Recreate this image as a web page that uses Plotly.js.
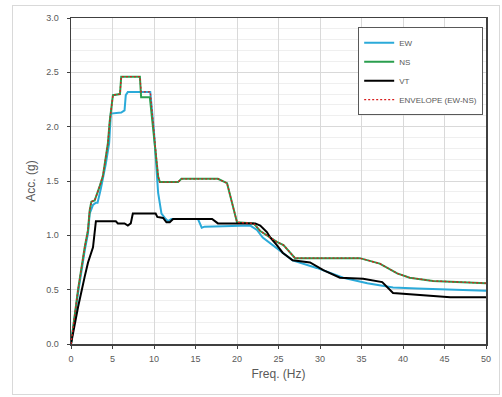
<!DOCTYPE html>
<html>
<head>
<meta charset="utf-8">
<script src="https://cdn.plot.ly/plotly-3.0.1.min.js"></script>
<style>
  html, body { margin: 0; padding: 0; background: #ffffff; }
  #frame { position: absolute; left: 12px; top: 5px; width: 488px; height: 390px; border: 1px solid #d9d9d9; box-sizing: border-box; z-index: 0; }
  #chart { position: absolute; left: 0; top: 0; width: 502px; height: 397px; z-index: 1; }
</style>
</head>
<body>
<div id="frame"></div>
<div id="chart"></div>
<script>
// ---- data ----
const ewFreq = [0, 0.85, 1.65, 2.05, 2.25, 2.65, 3.0, 3.2, 3.6, 4.2, 4.6, 4.8, 6.05, 6.45, 6.6, 6.85, 9.55, 10.0, 10.5, 10.9, 11.3, 11.7, 12.1, 15.3, 15.75, 16.1, 21.6, 22.4, 23.1, 24.8, 26.7, 29.6, 32.8, 35.7, 38.8, 41.7, 50];
const ewAcc  = [0, 0.47, 0.86, 1.02, 1.2, 1.28, 1.30, 1.30, 1.43, 1.66, 1.85, 2.12, 2.13, 2.15, 2.29, 2.32, 2.32, 1.95, 1.39, 1.20, 1.16, 1.13, 1.15, 1.15, 1.07, 1.08, 1.09, 1.05, 0.98, 0.88, 0.77, 0.70, 0.61, 0.56, 0.52, 0.51, 0.49];

const nsFreq = [0, 0.85, 1.65, 2.05, 2.25, 2.45, 2.85, 3.0, 3.45, 3.85, 4.2, 4.45, 4.65, 4.8, 5.05, 5.9, 6.05, 8.3, 8.45, 9.5, 10.1, 10.5, 10.7, 12.9, 13.3, 17.7, 18.8, 19.35, 20.0, 22.0, 22.8, 24.8, 25.6, 27.0, 34.8, 37.2, 39.3, 40.8, 43.6, 50];
const nsAcc  = [0, 0.5, 0.89, 1.05, 1.23, 1.31, 1.32, 1.35, 1.45, 1.55, 1.72, 1.85, 2.04, 2.15, 2.29, 2.30, 2.46, 2.46, 2.27, 2.27, 1.85, 1.54, 1.49, 1.49, 1.52, 1.52, 1.48, 1.32, 1.12, 1.11, 1.04, 0.94, 0.91, 0.79, 0.79, 0.74, 0.65, 0.61, 0.58, 0.56];

const vtFreq = [0, 0.85, 1.65, 2.05, 2.65, 2.85, 3.0, 5.4, 5.65, 6.45, 6.85, 7.2, 7.45, 10.2, 10.4, 11.1, 11.5, 11.9, 12.3, 17.0, 17.7, 22.2, 22.8, 23.6, 24.0, 24.8, 25.5, 26.7, 28.8, 30.4, 32.4, 35.2, 37.5, 38.8, 42.9, 45.7, 50];
const vtAcc  = [0, 0.34, 0.62, 0.75, 0.89, 1.05, 1.13, 1.13, 1.11, 1.11, 1.09, 1.11, 1.20, 1.20, 1.17, 1.16, 1.12, 1.12, 1.15, 1.15, 1.11, 1.11, 1.09, 1.03, 0.98, 0.91, 0.84, 0.77, 0.75, 0.68, 0.61, 0.60, 0.57, 0.47, 0.45, 0.43, 0.43];

const envFreq = [0, 0.85, 1.65, 2.05, 2.25, 2.45, 2.85, 3.0, 3.45, 3.85, 4.2, 4.45, 4.65, 4.8, 5.05, 5.9, 6.05, 8.3, 8.45, 9.55, 10.1, 10.5, 10.7, 12.9, 13.3, 17.7, 18.8, 19.35, 20.0, 22.0, 22.8, 24.8, 25.6, 27.0, 34.8, 37.2, 39.3, 40.8, 43.6, 50];
const envAcc  = [0, 0.5, 0.89, 1.05, 1.23, 1.31, 1.32, 1.35, 1.45, 1.55, 1.72, 1.85, 2.04, 2.15, 2.29, 2.30, 2.46, 2.46, 2.32, 2.32, 1.85, 1.54, 1.49, 1.49, 1.52, 1.52, 1.48, 1.32, 1.12, 1.11, 1.04, 0.94, 0.91, 0.79, 0.79, 0.74, 0.65, 0.61, 0.58, 0.56];

const xTicks = [0, 5, 10, 15, 20, 25, 30, 35, 40, 45, 50];
const yTicks = [0, 0.5, 1.0, 1.5, 2.0, 2.5, 3.0];
const yTickText = ['0.0', '0.5', '1.0', '1.5', '2.0', '2.5', '3.0'];

const traces = [
  { x: ewFreq, y: ewAcc, name: 'EW', mode: 'lines', line: { color: '#2BAAD9', width: 2 } },
  { x: nsFreq, y: nsAcc, name: 'NS', mode: 'lines', line: { color: '#2A9E4E', width: 2 } },
  { x: vtFreq, y: vtAcc, name: 'VT', mode: 'lines', line: { color: '#000000', width: 2 } },
  { x: envFreq, y: envAcc, name: 'ENVELOPE (EW-NS)', mode: 'lines', line: { color: '#D81E1E', width: 1.3, dash: '2px,2px' } }
];

const axisFont = { family: 'Liberation Sans, Arial, sans-serif', size: 9, color: '#595959' };

const layout = {
  width: 502, height: 397,
  margin: { l: 71, r: 16, t: 18, b: 53 },
  paper_bgcolor: 'rgba(0,0,0,0)',
  plot_bgcolor: '#ffffff',
  font: { family: 'Liberation Sans, Arial, sans-serif', color: '#595959' },
  xaxis: {
    range: [0, 50], tickvals: xTicks, ticktext: xTicks.map(String),
    showgrid: true, gridcolor: '#d9d9d9', gridwidth: 1,
    showline: true, linecolor: '#404040', linewidth: 1.5, mirror: true,
    ticks: 'outside', ticklen: 3, tickcolor: '#404040',
    tickfont: axisFont, zeroline: false, ticklabelstandoff: 3,
    title: { text: 'Freq. (Hz)', font: { family: 'Liberation Sans, Arial, sans-serif', size: 12, color: '#595959' }, standoff: 6 }
  },
  yaxis: {
    range: [0, 3], tickvals: yTicks, ticktext: yTickText,
    showgrid: true, gridcolor: '#d9d9d9', gridwidth: 1,
    minor: { dtick: 0.1, showgrid: true, gridcolor: '#efefef', gridwidth: 1, ticks: '' },
    showline: true, linecolor: '#404040', linewidth: 1.5, mirror: true,
    ticks: 'outside', ticklen: 3, tickcolor: '#404040',
    tickfont: axisFont, zeroline: false, ticklabelstandoff: 6,
    title: { text: 'Acc. (g)', font: { family: 'Liberation Sans, Arial, sans-serif', size: 12, color: '#595959' }, standoff: 8 }
  },
  legend: {
    x: 0.692, y: 0.972, xanchor: 'left', yanchor: 'top',
    bgcolor: '#ffffff', bordercolor: '#595959', borderwidth: 1,
    font: { family: 'Liberation Sans, Arial, sans-serif', size: 8, color: '#595959' },
    itemwidth: 30
  },
  showlegend: true
};

Plotly.newPlot('chart', traces, layout, { displayModeBar: false, staticPlot: true });
</script>
</body>
</html>
